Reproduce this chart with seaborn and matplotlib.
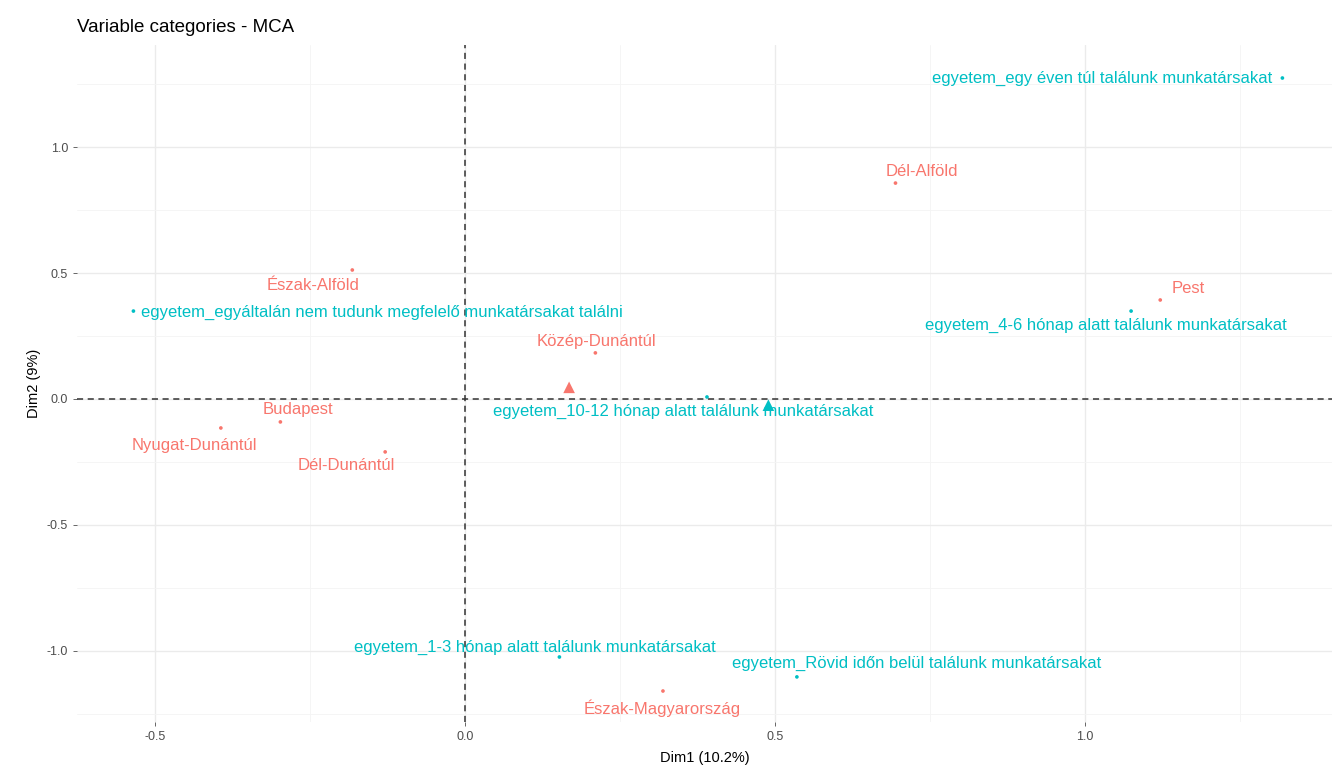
import matplotlib
matplotlib.use("Agg")
import matplotlib.pyplot as plt
import numpy as np
import pandas as pd
import seaborn as sns

# MCA coordinates of the variable categories
region_names = ["Budapest", "Pest", "Közép-Dunántúl", "Nyugat-Dunántúl",
                "Dél-Dunántúl", "Észak-Magyarország", "Észak-Alföld", "Dél-Alföld"]
region_dim1 = [-0.298, 1.121, 0.210, -0.394, -0.129, 0.319, -0.182, 0.694]
region_dim2 = [-0.091, 0.393, 0.183, -0.115, -0.210, -1.159, 0.512, 0.857]

egyetem_names = ["egyetem_1-3 hónap alatt találunk munkatársakat",
                 "egyetem_4-6 hónap alatt találunk munkatársakat",
                 "egyetem_10-12 hónap alatt találunk munkatársakat",
                 "egyetem_egy éven túl találunk munkatársakat",
                 "egyetem_egyáltalán nem tudunk megfelelő munkatársakat találni",
                 "egyetem_Rövid időn belül találunk munkatársakat"]
egyetem_dim1 = [0.152, 1.074, 0.390, 1.318, -0.535, 0.535]
egyetem_dim2 = [-1.024, 0.349, 0.008, 1.274, 0.349, -1.103]

group_names = ["régió", "egyetem"]
x_ticks = [-0.5, 0.0, 0.5, 1.0]
y_ticks = [-1.0, -0.5, 0.0, 0.5, 1.0]

# label placement (offset in pixels, horizontal alignment)
label_layout = {
    "Budapest": (18, 12, "center"),
    "Pest": (28, 11, "center"),
    "Közép-Dunántúl": (1, 11, "center"),
    "Nyugat-Dunántúl": (-26, -18, "center"),
    "Dél-Dunántúl": (-39, -14, "center"),
    "Észak-Magyarország": (-1, -17, "center"),
    "Észak-Alföld": (-39, -16, "center"),
    "Dél-Alföld": (26, 12, "center"),
    "egyetem_1-3 hónap alatt találunk munkatársakat": (-25, 10, "center"),
    "egyetem_4-6 hónap alatt találunk munkatársakat": (-25, -14, "center"),
    "egyetem_10-12 hónap alatt találunk munkatársakat": (-24, -14, "center"),
    "egyetem_egy éven túl találunk munkatársakat": (-10, 0, "right"),
    "egyetem_egyáltalán nem tudunk megfelelő munkatársakat találni": (8, -1, "left"),
    "egyetem_Rövid időn belül találunk munkatársakat": (120, 13, "center"),
}

df = pd.DataFrame({
    "name": region_names + egyetem_names,
    "Dim1": region_dim1 + egyetem_dim1,
    "Dim2": region_dim2 + egyetem_dim2,
    "group": [group_names[0]] * len(region_names) + [group_names[1]] * len(egyetem_names),
})
means = df.groupby("group", sort=False)[["Dim1", "Dim2"]].mean().reset_index()

palette = {group_names[0]: "#F8766D", group_names[1]: "#00BFC4"}

sns.set_theme(style="white")
plt.rcParams["font.family"] = ["Liberation Sans", "DejaVu Sans"]

fig = plt.figure(figsize=(13.32, 7.67), dpi=100)
ax = fig.add_axes([77 / 1332, 45 / 767, 1255 / 1332, 677 / 767])

# grid: major and minor lines like a minimal theme
for v in np.arange(-0.75, 1.5, 0.25):
    major = v in x_ticks
    ax.axvline(v, color="#ebebeb" if major else "#f4f4f4", lw=1.0 if major else 0.6, zorder=0)
for v in np.arange(-1.25, 1.5, 0.25):
    major = v in y_ticks
    ax.axhline(v, color="#ebebeb" if major else "#f4f4f4", lw=1.0 if major else 0.6, zorder=0)

ax.axhline(0, color="#333333", lw=1.1, ls=(0, (4, 3)), zorder=1)
ax.axvline(0, color="#333333", lw=1.1, ls=(0, (4, 3)), zorder=1)

sns.scatterplot(data=df, x="Dim1", y="Dim2", hue="group", palette=palette,
                s=7, marker="o", linewidth=0, legend=False, ax=ax, zorder=3)
sns.scatterplot(data=means, x="Dim1", y="Dim2", hue="group", palette=palette,
                s=70, marker="^", linewidth=0, legend=False, ax=ax, zorder=3)

for _, r in df.iterrows():
    dx, dy, ha = label_layout[r["name"]]
    ax.annotate(r["name"], (r["Dim1"], r["Dim2"]), xytext=(dx, dy),
                textcoords="offset pixels", ha=ha, va="center",
                color=palette[r["group"]], fontsize=12, zorder=4)

ax.set_xlim(-0.626, 1.398)
ax.set_ylim(-1.282, 1.405)
ax.set_xticks(x_ticks)
ax.set_yticks(y_ticks)
ax.set_xticklabels([f"{t:.1f}" for t in x_ticks])
ax.set_yticklabels([f"{t:.1f}" for t in y_ticks])
ax.tick_params(axis="both", labelsize=9, colors="#4d4d4d", length=3, width=0.6,
               direction="out", bottom=True, left=True)
for s in ax.spines.values():
    s.set_visible(False)

ax.set_xlabel("Dim1 (10.2%)", fontsize=10.5, color="black", labelpad=6)
ax.set_ylabel("Dim2 (9%)", fontsize=10.5, color="black", labelpad=4)
fig.text(77 / 1332, 1 - 27 / 767, "Variable categories - MCA", fontsize=13.5,
         ha="left", va="center", color="black")

fig.savefig("out.png", dpi=100, facecolor="white")
